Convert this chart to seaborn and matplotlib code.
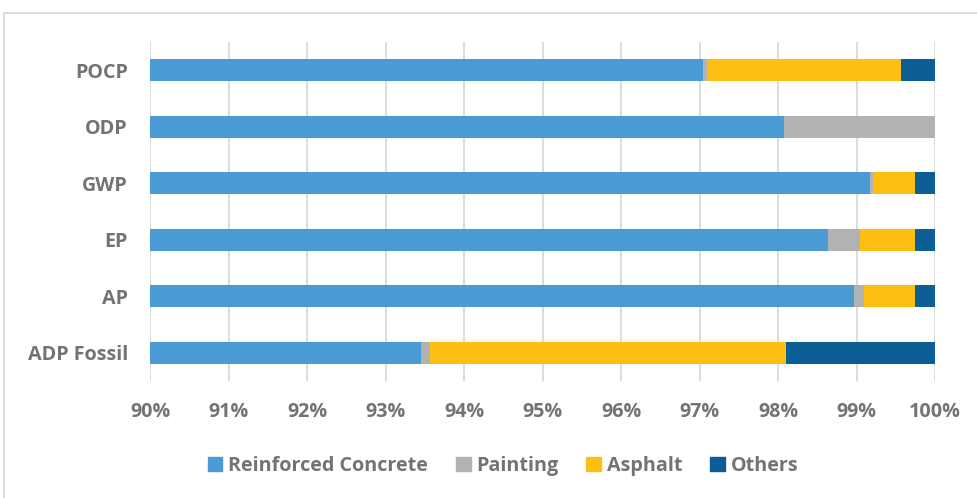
import matplotlib
matplotlib.use("Agg")
import matplotlib.pyplot as plt
import matplotlib.patches as mpatches
import numpy as np
import pandas as pd
import seaborn as sns

# Share of each contributor per impact category (%)
categories = ["POCP", "ODP", "GWP", "EP", "AP", "ADP Fossil"]
reinforced_concrete = [97.05, 98.08, 99.17, 98.64, 98.97, 93.45]
painting = [0.05, 1.92, 0.04, 0.40, 0.13, 0.12]
asphalt = [2.47, 0.00, 0.54, 0.71, 0.65, 4.53]
others = [0.43, 0.00, 0.25, 0.25, 0.25, 1.90]

series_names = ["Reinforced Concrete", "Painting", "Asphalt", "Others"]
series_values = [reinforced_concrete, painting, asphalt, others]
colors = ["#4A9AD4", "#B1B2B4", "#FDBF11", "#0A5E94"]
tick_values = list(range(90, 101))

sns.set_theme(style="white")
plt.rcParams["font.family"] = ["Open Sans", "DejaVu Sans"]
text_color = "#737373"
font_size = 14.2

df = pd.DataFrame({"category": categories})
cum = np.zeros(len(categories))
for name, vals in zip(series_names, series_values):
    cum = cum + np.array(vals)
    df[name] = cum

fig = plt.figure(figsize=(9.78, 4.98), dpi=100)
ax = fig.add_axes([150 / 978, 1 - 381 / 498, 785 / 978, 339 / 498])

# Stacked bars: draw cumulative totals from the outermost segment inward
for name, color in reversed(list(zip(series_names, colors))):
    sns.barplot(data=df, x=name, y="category", color=color, width=0.39,
                saturation=1, ax=ax, orient="h", linewidth=0, zorder=3)

ax.set_xlim(90, 100)
ax.set_xticks(tick_values)
ax.set_xticklabels([f"{t}%" for t in tick_values])
ax.set_xlabel("")
ax.set_ylabel("")
ax.xaxis.grid(True, color="#D9D9D9", linewidth=1.3, zorder=0)
ax.yaxis.grid(False)
for s in ax.spines.values():
    s.set_visible(False)
ax.tick_params(axis="x", length=0, pad=15, labelsize=font_size, labelcolor=text_color)
ax.tick_params(axis="y", length=0, pad=16, labelsize=font_size, labelcolor=text_color)
for lbl in ax.get_xticklabels() + ax.get_yticklabels():
    lbl.set_fontweight("bold")

handles = [mpatches.Patch(color=c, label=n) for n, c in zip(series_names, colors)]
fig.legend(handles=handles, loc="center", bbox_to_anchor=(503 / 978, 1 - 466 / 498),
           ncol=4, frameon=False, handlelength=0.75, handleheight=0.75,
           handletextpad=0.3, columnspacing=1.4,
           prop={"weight": "bold", "size": font_size}, labelcolor=text_color)

# Chart area border
fig.patches.append(mpatches.Rectangle((4 / 978, -0.01), 1.0, 1 - 13 / 498 + 0.01,
                                      transform=fig.transFigure, fill=False,
                                      edgecolor="#D9D9D9", linewidth=1.3))

fig.savefig("out.png", dpi=100)
